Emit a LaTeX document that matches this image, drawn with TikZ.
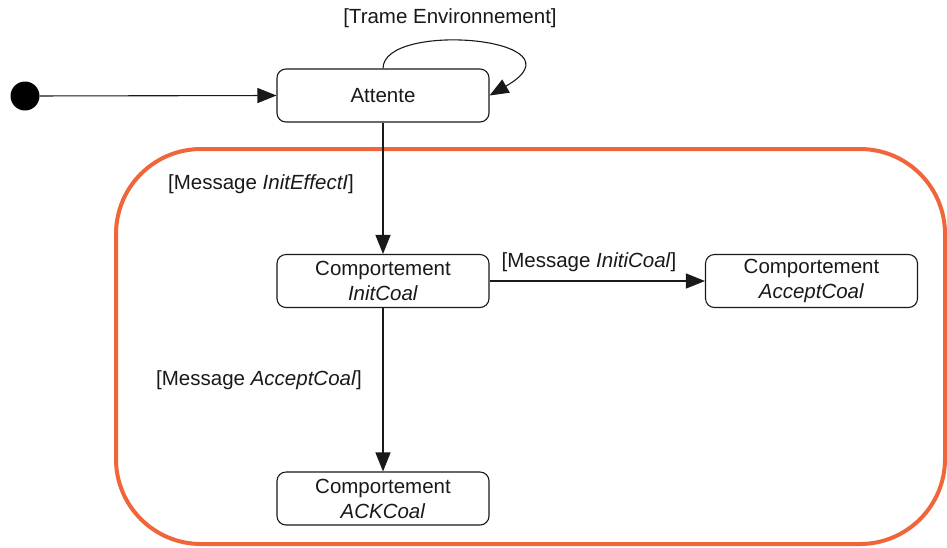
\documentclass[tikz,border=0pt]{standalone}
\usepackage{fontspec}
\setmainfont{Liberation Sans}
\usetikzlibrary{arrows.meta}
\definecolor{frameorange}{RGB}{240,102,58}
\definecolor{ink}{RGB}{25,25,25}
\begin{document}
\begin{tikzpicture}[x=1pt,y=-1pt,
  font=\fontsize{20.5}{25}\selectfont,
  statebox/.style={draw=ink,line width=1.1pt,rounded corners=9pt,minimum width=212pt,minimum height=53pt,align=center,inner sep=0pt,text=ink},
  guard/.style={text=ink,inner sep=0pt,anchor=center},
  conn/.style={draw=ink,line width=1.1pt,-{Triangle[length=19pt,width=15pt]}}]
\useasboundingbox (0,0) rectangle (947,547);
% composite state frame
\draw[frameorange,line width=4pt,rounded corners=85pt] (116,149) rectangle (945,544);
% initial pseudostate
\node[circle,fill=black,minimum size=29pt,inner sep=0pt] (init) at (25,96) {};
% states
\node[statebox] (att) at (383,95.5) {Attente};
\node[statebox] (ic) at (383,281) {Comportement\\\textit{InitCoal}};
\node[statebox] (ac) at (811.5,281) {Comportement\\\textit{AcceptCoal}};
\node[statebox] (ack) at (383,498.5) {Comportement\\\textit{ACKCoal}};
% guards
\node[guard] (gTrame) at (450,18) {[Trame Environnement]};
\node[guard] (gEff) at (261,184) {[Message \textit{InitEffectI}]};
\node[guard] (gIni) at (589,262) {[Message \textit{InitiCoal}]};
\node[guard] (gAcc) at (259,380) {[Message \textit{AcceptCoal}]};
% transitions
\draw[conn] (init) -- (att.west);
\draw[conn] (att.north) .. controls (383,20) and (590,38) .. (att.east);
\draw[conn] (att.south) -- (ic.north);
\draw[conn] (ic.east) -- (ac.west);
\draw[conn] (ic.south) -- (ack.north);
\end{tikzpicture}
\end{document}
